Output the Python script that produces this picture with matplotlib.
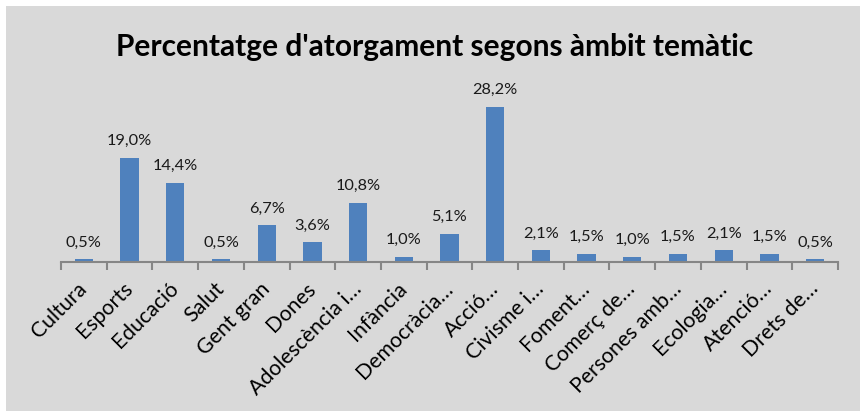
import matplotlib.pyplot as plt
from matplotlib.patches import Rectangle
import numpy as np

plt.rcParams['font.family'] = ['Lato', 'DejaVu Sans']

# percentatge per àmbit temàtic
ambits = ['Cultura', 'Esports', 'Educació', 'Salut', 'Gent gran', 'Dones',
          'Adolescència i…', 'Infància', 'Democràcia…', 'Acció…', 'Civisme i…',
          'Foment…', 'Comerç de…', 'Persones amb…', 'Ecologia…', 'Atenció…',
          'Drets de…']
percentatge = [0.5, 19.0, 14.4, 0.5, 6.7, 3.6, 10.8, 1.0, 5.1, 28.2, 2.1,
               1.5, 1.0, 1.5, 2.1, 1.5, 0.5]

W, H = 860, 411
fig = plt.figure(figsize=(W / 100, H / 100), dpi=100)
fig.patch.set_facecolor('#d9d9d9')
# vora blanca a dalt i a l'esquerra
fig.patches.append(Rectangle((0, 1 - 6 / H), 1, 6 / H, transform=fig.transFigure,
                             facecolor='white', edgecolor='none'))
fig.patches.append(Rectangle((0, 0), 6 / W, 1, transform=fig.transFigure,
                             facecolor='white', edgecolor='none'))

left, right, bottom, top = 61, 838, 262, 80
ax = fig.add_axes([left / W, 1 - bottom / H, (right - left) / W, (bottom - top) / H])
ax.set_facecolor('none')

x = np.arange(len(ambits))
bars = ax.bar(x, percentatge, width=0.4, color='#4f81bd', zorder=2)
ax.set_xlim(-0.5, len(ambits) - 0.5)
ax.set_ylim(0, (bottom - top) / 5.5)

for xi, v in zip(x, percentatge):
    ax.annotate(f'{v:.1f}%'.replace('.', ','), (xi, v), xytext=(0, 7),
                textcoords='offset points', ha='center', va='bottom',
                fontsize=11.8, color='#1a1a1a')

for s in ['top', 'right', 'left']:
    ax.spines[s].set_visible(False)
ax.spines['bottom'].set_color('#868686')
ax.spines['bottom'].set_linewidth(1.5)
ax.set_yticks([])

ax.set_xticks(x)
ax.set_xticklabels(ambits, rotation=45, ha='right', va='center',
                   rotation_mode='anchor', fontsize=15.3, color='black')
ax.tick_params(axis='x', which='major', length=0, pad=17)
ax.set_xticks(np.arange(len(ambits) + 1) - 0.5, minor=True)
ax.tick_params(axis='x', which='minor', length=6, width=1.5, color='#868686')

fig.text(435 / W, 1 - 47 / H, "Percentatge d'atorgament segons àmbit temàtic",
         ha='center', va='center', fontsize=21.5, fontweight='bold', color='black')

fig.savefig('out.png', dpi=100, facecolor=fig.get_facecolor())
